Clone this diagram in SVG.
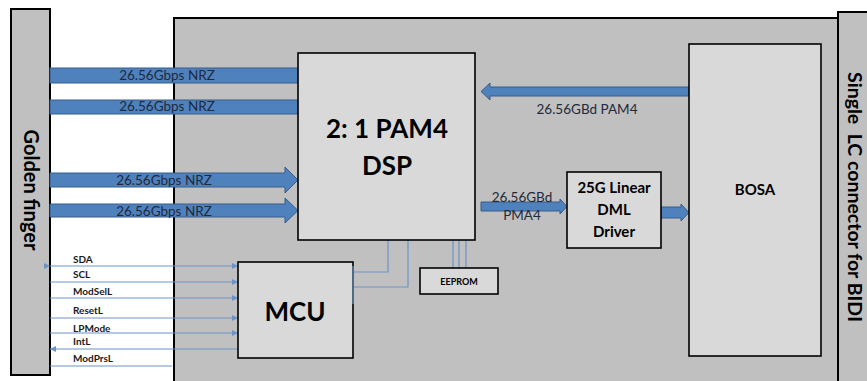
<svg xmlns="http://www.w3.org/2000/svg" width="867" height="381" viewBox="0 0 867 381">
<style>
.panel{fill:#c0c0c0;stroke:#000;stroke-width:2}
.box{fill:#d9d9d9;stroke:#000;stroke-width:1.6}
.big{font-family:Lato,"Liberation Sans",sans-serif;font-weight:bold;fill:#000;text-anchor:middle}
.lbl{font-family:Lato,"Liberation Sans",sans-serif;font-size:13.5px;fill:#1f2a3a;text-anchor:middle}
.sig{font-family:Lato,"Liberation Sans",sans-serif;font-size:10px;font-weight:bold;fill:#1a1a1a}
.barrow{fill:#4f81bd;stroke:#385d8a;stroke-width:1}
.wire{fill:none;stroke:#6c93c6;stroke-width:1.2}
</style>
<defs>
<marker id="ah" viewBox="0 0 6 6" refX="6" refY="3" markerWidth="6" markerHeight="6" orient="auto" markerUnits="userSpaceOnUse">
<path d="M0,0 L6,3 L0,6 z" fill="#6c93c6"/>
</marker>
</defs>

<g id="board"><rect class="panel" x="174" y="18" width="664" height="364"/></g>
<g id="golden-finger">
<rect class="panel" x="11" y="9" width="39" height="366"/>
<text class="big" font-size="20" transform="translate(24,190) rotate(90)">Golden finger</text>
</g>
<g id="lc-connector">
<rect class="panel" x="838" y="12" width="32" height="372"/>
<text class="big" font-size="19.5" xml:space="preserve" transform="translate(848,197) rotate(90)">Single  LC connector for BIDI</text>
</g>

<g id="connectors">
<rect class="barrow" x="50" y="68" width="248" height="15"/>
<rect class="barrow" x="50" y="100" width="248" height="14"/>
<polygon class="barrow" points="50,173 285,173 285,167 298,180 285,193 285,187 50,187"/>
<polygon class="barrow" points="50,204 285,204 285,198 298,210.5 285,223 285,217 50,217"/>
<polygon class="barrow" points="689,87 490,87 490,83 481,91.5 490,100 490,96 689,96"/>
<polygon class="barrow" points="481,202 560,202 560,199 567,206.5 560,214 560,211 481,211"/>
<polygon class="barrow" points="661,207 681,207 681,204 689,212.5 681,221 681,218 661,218"/>
<line class="wire" x1="50" y1="266" x2="238" y2="266" marker-start="url(#ah)" marker-end="url(#ah)"/>
<line class="wire" x1="50" y1="282" x2="238" y2="282" marker-end="url(#ah)"/>
<line class="wire" x1="50" y1="298" x2="238" y2="298" marker-end="url(#ah)"/>
<line class="wire" x1="50" y1="318" x2="238" y2="318" marker-end="url(#ah)"/>
<line class="wire" x1="50" y1="333" x2="238" y2="333" marker-end="url(#ah)"/>
<line class="wire" x1="238" y1="349" x2="50" y2="349" marker-end="url(#ah)"/>
<line class="wire" x1="50" y1="366" x2="172" y2="366"/>
<polyline class="wire" points="388,240 388,272 353,272"/>
<polyline class="wire" points="408,240 408,287 353,287"/>
<line class="wire" x1="453" y1="240" x2="453" y2="268"/>
<line class="wire" x1="459" y1="240" x2="459" y2="268"/>
<line class="wire" x1="466" y1="240" x2="466" y2="268"/>
<text class="lbl" x="167" y="80">26.56Gbps NRZ</text>
<text class="lbl" x="167" y="111">26.56Gbps NRZ</text>
<text class="lbl" x="164" y="185">26.56Gbps NRZ</text>
<text class="lbl" x="164" y="216">26.56Gbps NRZ</text>
<text class="lbl" x="587" y="114">26.56GBd PAM4</text>
<text class="lbl" x="522" y="202">26.56GBd</text>
<text class="lbl" x="522" y="220">PMA4</text>
<text class="sig" x="73" y="263">SDA</text>
<text class="sig" x="73" y="278">SCL</text>
<text class="sig" x="73" y="295">ModSelL</text>
<text class="sig" x="73" y="314">ResetL</text>
<text class="sig" x="73" y="332">LPMode</text>
<text class="sig" x="73" y="345">IntL</text>
<text class="sig" x="73" y="362">ModPrsL</text>
</g>

<g id="dsp">
<rect class="box" x="298" y="53" width="177" height="187"/>
<text class="big" font-size="26" x="387" y="138">2: 1 PAM4</text>
<text class="big" font-size="26" x="387" y="175">DSP</text>
</g>
<g id="mcu">
<rect class="box" x="238" y="262" width="115" height="96"/>
<line class="wire" x1="353" y1="266" x2="353" y2="304"/>
<text class="big" font-size="26" x="295" y="321">MCU</text>
</g>
<g id="eeprom">
<rect class="box" x="420" y="268" width="78" height="26"/>
<text class="big" font-size="9" x="459" y="285">EEPROM</text>
</g>
<g id="driver">
<rect class="box" x="567" y="172" width="94" height="76"/>
<text class="big" font-size="15" x="614" y="193">25G Linear</text>
<text class="big" font-size="15" x="614" y="215">DML</text>
<text class="big" font-size="15" x="614" y="237">Driver</text>
</g>
<g id="bosa">
<rect class="box" x="689" y="44" width="132" height="312"/>
<text class="big" font-size="15" x="755" y="195">BOSA</text>
</g>
</svg>
